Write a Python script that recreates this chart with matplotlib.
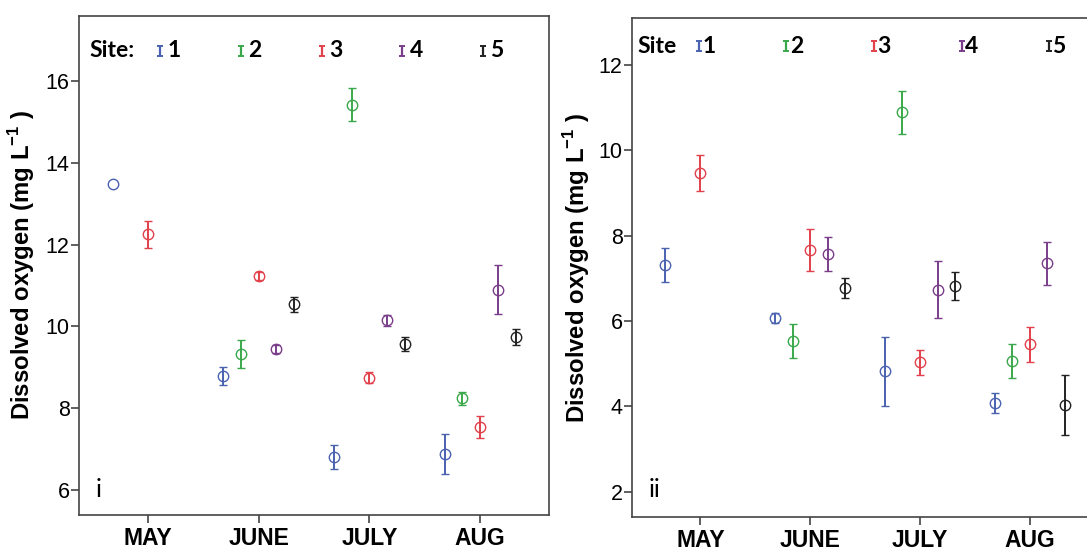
import numpy as np
import matplotlib
matplotlib.use("Agg")
import matplotlib.pyplot as plt

nan = np.nan

months = ["MAY", "JUNE", "JULY", "AUG"]
sites = ["1", "2", "3", "4", "5"]
site_colors = ["#4a62b0", "#3aa84a", "#e2404a", "#7a3d8a", "#222222"]

# panel i: mean dissolved oxygen per site (rows) and month (columns)
do_i = [
    [13.49, 8.80, 6.80, 6.88],
    [nan, 9.32, 15.42, 8.24],
    [12.25, 11.24, 8.75, 7.54],
    [nan, 9.45, 10.15, 10.90],
    [nan, 10.54, 9.57, 9.74],
]
err_i = [
    [nan, 0.22, 0.29, 0.49],
    [nan, 0.34, 0.40, 0.15],
    [0.33, 0.10, 0.13, 0.26],
    [nan, 0.10, 0.14, 0.59],
    [nan, 0.19, 0.17, 0.20],
]

# panel ii
do_ii = [
    [7.32, 6.07, 4.82, 4.08],
    [nan, 5.53, 10.89, 5.07],
    [9.47, 7.66, 5.03, 5.45],
    [nan, 7.57, 6.73, 7.35],
    [nan, 6.77, 6.82, 4.03],
]
err_ii = [
    [0.40, 0.12, 0.80, 0.24],
    [nan, 0.40, 0.50, 0.40],
    [0.42, 0.50, 0.30, 0.40],
    [nan, 0.40, 0.67, 0.50],
    [nan, 0.23, 0.33, 0.70],
]

site_offset = 0.16

plt.rcParams["font.family"] = ["Liberation Sans", "DejaVu Sans"]
plt.rcParams["mathtext.fontset"] = "custom"
plt.rcParams["mathtext.rm"] = "Liberation Sans"
plt.rcParams["mathtext.bf"] = "Liberation Sans:bold"

fig = plt.figure(figsize=(10.87, 5.49), dpi=100)
ax1 = fig.add_axes([0.073, 0.0619, 0.4318, 0.909])
ax2 = fig.add_axes([0.5817, 0.0583, 0.4284, 0.9085])


def draw_panel(ax, means, errs, ylim, yticks, panel, leg):
    x_month = np.arange(1, len(months) + 1)
    for k in range(len(sites)):
        xs = x_month + (k - 2) * site_offset
        ax.errorbar(xs, means[k], yerr=errs[k], fmt="o", color=site_colors[k],
                    mfc="none", mec=site_colors[k], ms=7.5, mew=1.0,
                    elinewidth=1.4, capsize=3, capthick=1.4)

    ax.set_xlim(0.38, 4.62)
    ax.set_ylim(*ylim)
    ax.set_xticks(x_month)
    ax.set_xticklabels(months, fontsize=16.5, fontweight="bold")
    ax.set_yticks(yticks)
    ax.set_yticklabels([str(t) for t in yticks], fontsize=15.5)
    ax.tick_params(axis="both", direction="out", length=6, width=1.2,
                   color="#444444")
    ax.tick_params(axis="y", pad=1)
    ax.tick_params(axis="x", pad=2.5)
    for sp in ax.spines.values():
        sp.set_color("#444444")
        sp.set_linewidth(1.2)

    ax.set_ylabel(r"Dissolved oxygen (mg L$^{\mathbf{-1}}$ )", fontsize=17.2,
                  fontweight="bold")
    ax.yaxis.set_label_coords(leg["ylab_x"], 0.5)

    # site key
    ax.text(leg["title_x"], leg["y"], leg["title"], transform=ax.transAxes,
            fontsize=16.5, fontweight="bold", family="Lato", va="center",
            ha="left")
    for k, s in enumerate(sites):
        bx = leg["x0"] + k * leg["dx"]
        ax.errorbar([bx], [leg["y"]], yerr=[0.010], fmt="none",
                    color=site_colors[k], elinewidth=1.6, capsize=2.5,
                    capthick=1.4, transform=ax.transAxes, clip_on=False)
        ax.text(bx + leg["gap"], leg["y"], s, transform=ax.transAxes,
                fontsize=16.5, fontweight="bold", family="Lato", va="center",
                ha="left")

    ax.text(panel[1], panel[2], panel[0], transform=ax.transAxes,
            fontsize=18, family="Lato", va="baseline", ha="left")


draw_panel(ax1, do_i, err_i, (5.39, 17.59), [6, 8, 10, 12, 14, 16],
           ("i", 0.035, 0.036),
           dict(title="Site:", title_x=0.022, y=0.930, x0=0.172, dx=0.172,
                gap=0.016, ylab_x=-0.091))
draw_panel(ax2, do_ii, err_ii, (1.41, 13.09), [2, 4, 6, 8, 10, 12],
           ("ii", 0.036, 0.0395),
           dict(title="Site", title_x=0.012, y=0.944, x0=0.143, dx=0.188,
                gap=0.007, ylab_x=-0.0865))

fig.savefig("out.png", dpi=100)
